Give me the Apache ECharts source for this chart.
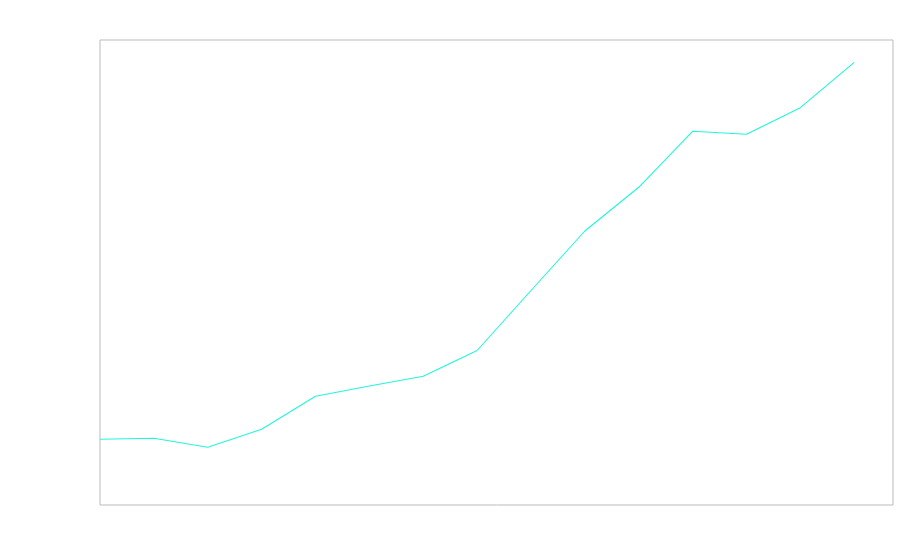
<!DOCTYPE html>
<html>
<head>
<meta charset="utf-8">
<script src="https://cdn.jsdelivr.net/npm/echarts@6/dist/echarts.min.js"></script>
<style>html,body{margin:0;padding:0;background:#fff}#c{width:900px;height:560px}</style>
</head>
<body>
<div id="c"></div>
<script>
var xValues = [0, 1, 2, 3, 4, 5, 6, 7, 8, 9, 10, 11, 12, 13, 14];
var yValues = [65.7, 66.7, 57.7, 75.7, 108.7, 119, 128.7, 154.5, 214.5, 274, 317.7, 373.7, 370.7, 397.3, 442.7];

var data = xValues.map(function (x, i) { return [x, yValues[i]]; });
var chart = echarts.init(document.getElementById('c'), null, { renderer: 'canvas' });
chart.setOption({
  animation: false,
  grid: { left: 100, top: 40, right: 7, bottom: 55, show: true, borderColor: '#bbbbbb', borderWidth: 1, backgroundColor: 'transparent' },
  xAxis: { type: 'value', min: 0, max: 14.72, show: false },
  yAxis: { type: 'value', min: 0, max: 465, show: false },
  series: [{
    type: 'line',
    data: data,
    showSymbol: false,
    lineStyle: { color: '#22f7da', width: 1.1 },
    itemStyle: { color: '#22f7da' }
  }]
});
</script>
</body>
</html>
